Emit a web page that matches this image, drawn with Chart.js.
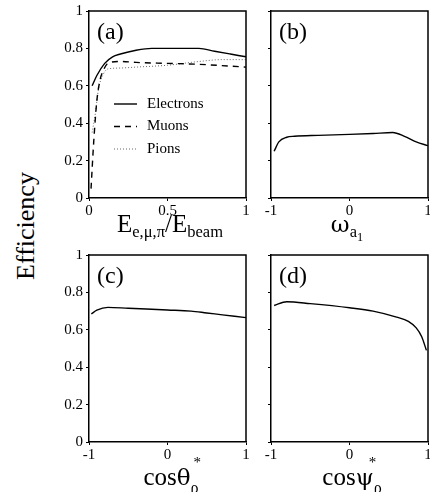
<!DOCTYPE html>
<html>
<head>
<meta charset="utf-8">
<script src="https://cdn.jsdelivr.net/npm/chart.js@4.4.0/dist/chart.umd.min.js"></script>
<style>
  body { margin: 0; background: #fff; width: 430px; height: 492px; position: relative; overflow: hidden; font-family: 'Liberation Serif', serif; }
  canvas { position: absolute; }
  .lbl { position: absolute; font-size: 25px; color: #000; white-space: nowrap; line-height: 1; transform: translateX(-50%); }
  .lbl .sub { font-size: 0.66em; position: relative; top: 0.33em; }
  .g { font-family: 'DejaVu Serif', serif; font-size: 0.92em; }
  .ss { position: relative; display: inline-block; }
  .ss .st { position: absolute; top: -9px; font-size: 15px; }
  .ss .sb { font-size: 16px; position: relative; top: 8px; }
</style>
</head>
<body>
<canvas id="pa" width="220" height="250" style="left:40px;top:0"></canvas>
<canvas id="pb" width="170" height="250" style="left:260px;top:0"></canvas>
<canvas id="pc" width="220" height="242" style="left:40px;top:250px"></canvas>
<canvas id="pd" width="170" height="242" style="left:260px;top:250px"></canvas>

<div class="lbl" style="left:170px;top:211px">E<span class="sub">e,μ,π</span>/E<span class="sub">beam</span></div>
<div class="lbl" style="left:347px;top:211px"><span class="g">ω</span><span class="sub">a<span style="font-size:0.75em;position:relative;top:0.3em">1</span></span></div>
<div class="lbl" style="left:171px;top:464px">cos<span class="g">θ</span><span class="ss"><span class="st" style="left:3px">*</span><span class="sb">ρ</span></span></div>
<div class="lbl" style="left:352px;top:464px">cos<span class="g">ψ</span><span class="ss"><span class="st" style="left:-5px">*</span><span class="sb">ρ</span></span></div>
<div style="position:absolute;left:26px;top:226px;font-size:26px;line-height:1;white-space:nowrap;transform:translate(-50%,-50%) rotate(-90deg);">Efficiency</div>

<script>
// tick labels
const yTicks = [0, 0.2, 0.4, 0.6, 0.8, 1];
const xTicksA = [0, 0.5, 1];
const xTicksCos = [-1, 0, 1];

// (a) efficiency vs E/Ebeam
const elecX = [0.02, 0.05, 0.1, 0.15, 0.2, 0.3, 0.4, 0.5, 0.6, 0.7, 0.8, 0.9, 1.0];
const elecY = [0.6, 0.655, 0.72, 0.755, 0.77, 0.79, 0.80, 0.80, 0.80, 0.80, 0.785, 0.77, 0.755];
const muonX = [0.013, 0.03, 0.05, 0.07, 0.09, 0.12, 0.2, 0.3, 0.5, 0.7, 0.9, 1.0];
const muonY = [0.05, 0.3, 0.52, 0.63, 0.68, 0.72, 0.73, 0.725, 0.72, 0.715, 0.705, 0.70];
const pionX = [0.02, 0.04, 0.06, 0.09, 0.12, 0.2, 0.3, 0.5, 0.7, 0.85, 1.0];
const pionY = [0.35, 0.45, 0.58, 0.66, 0.69, 0.695, 0.70, 0.71, 0.73, 0.74, 0.74];

// (b) efficiency vs omega_a1
const omegaX = [-0.96, -0.9, -0.8, -0.7, -0.4, 0, 0.3, 0.55, 0.7, 0.85, 1.0];
const omegaY = [0.25, 0.30, 0.325, 0.33, 0.335, 0.34, 0.345, 0.35, 0.33, 0.30, 0.28];

// (c) efficiency vs cos theta*
const thetaX = [-0.97, -0.9, -0.76, -0.5, 0, 0.3, 0.5, 0.7, 1.0];
const thetaY = [0.685, 0.705, 0.72, 0.715, 0.706, 0.70, 0.69, 0.68, 0.665];

// (d) efficiency vs cos psi*
const psiX = [-0.96, -0.8, -0.5, 0, 0.3, 0.6, 0.75, 0.85, 0.92, 0.98];
const psiY = [0.73, 0.75, 0.74, 0.718, 0.70, 0.668, 0.645, 0.61, 0.563, 0.49];

const font = { family: "'Liberation Serif', serif", size: 15 };

function pts(xs, ys) { return xs.map((x, i) => ({ x: x, y: ys[i] })); }

// frame, panel letter and in-plot legend
const decor = {
  id: 'decor',
  afterDraw(chart, args, opts) {
    const { ctx, chartArea: a } = chart;
    ctx.save();
    ctx.strokeStyle = '#000';
    ctx.lineWidth = 1.5;
    ctx.beginPath();
    ctx.moveTo(a.left, a.top); ctx.lineTo(a.right, a.top); ctx.lineTo(a.right, a.bottom);
    ctx.stroke();
    ctx.fillStyle = '#000';
    ctx.font = "24px 'Liberation Serif', serif";
    ctx.textBaseline = 'middle';
    ctx.fillText(opts.letter, a.left + 8, a.top + 22);
    if (opts.legend) {
      ctx.font = "15px 'Liberation Serif', serif";
      chart.data.datasets.forEach((ds, i) => {
        const y = a.top + 93 + i * 22.5;
        ctx.strokeStyle = ds.borderColor;
        ctx.lineWidth = ds.borderWidth;
        ctx.setLineDash(ds.borderDash || []);
        ctx.beginPath();
        ctx.moveTo(a.left + 25, y); ctx.lineTo(a.left + 48, y);
        ctx.stroke();
        ctx.setLineDash([]);
        ctx.fillText(ds.label, a.left + 58, y);
      });
    }
    ctx.restore();
  }
};

function panel(id, datasets, xTicks, yLabels, top, letter, legend) {
  const canvas = document.getElementById(id);
  const yw = yLabels ? 49 : 11;
  const xh = canvas.height - top - 187;
  return new Chart(canvas, {
    type: 'line',
    data: { datasets: datasets },
    options: {
      responsive: false,
      animation: false,
      layout: { padding: { top: top, right: canvas.width - yw - 157, left: 0, bottom: 0 } },
      elements: { point: { radius: 0 }, line: { tension: 0.3, cubicInterpolationMode: 'monotone' } },
      plugins: { legend: { display: false }, tooltip: { enabled: false }, decor: { letter: letter, legend: legend } },
      scales: {
        x: {
          type: 'linear', min: xTicks[0], max: xTicks[xTicks.length - 1],
          afterBuildTicks: s => { s.ticks = xTicks.map(v => ({ value: v })); },
          afterFit: s => { s.height = xh; s.paddingLeft = 0; s.paddingRight = 0; },
          ticks: { font: font, color: '#000', padding: 1, maxRotation: 0, autoSkip: false, callback: v => String(v) },
          grid: { drawOnChartArea: false, drawTicks: true, tickLength: 3, color: '#000' },
          border: { color: '#000', width: 1.5 }
        },
        y: {
          min: 0, max: 1,
          afterBuildTicks: s => { s.ticks = yTicks.map(v => ({ value: v })); },
          afterFit: s => { s.width = yw; s.paddingTop = 0; s.paddingBottom = 0; },
          ticks: { display: yLabels, font: font, color: '#000', padding: 3, callback: v => String(v) },
          grid: { drawOnChartArea: false, drawTicks: true, tickLength: 3, color: '#000' },
          border: { color: '#000', width: 1.5 }
        }
      }
    },
    plugins: [decor]
  });
}

const solid = (label, data) => ({ label: label, data: data, borderColor: '#000', borderWidth: 1.4, fill: false });

panel('pa', [
  solid('Electrons', pts(elecX, elecY)),
  { label: 'Muons', data: pts(muonX, muonY), borderColor: '#000', borderWidth: 1.4, borderDash: [6, 5], fill: false },
  { label: 'Pions', data: pts(pionX, pionY), borderColor: '#666', borderWidth: 1, borderDash: [1, 2], fill: false }
], xTicksA, true, 11, '(a)', true);

panel('pb', [solid('b', pts(omegaX, omegaY))], xTicksCos, false, 11, '(b)', false);
panel('pc', [solid('c', pts(thetaX, thetaY))], xTicksCos, true, 5, '(c)', false);
panel('pd', [solid('d', pts(psiX, psiY))], xTicksCos, false, 5, '(d)', false);
</script>
</body>
</html>
